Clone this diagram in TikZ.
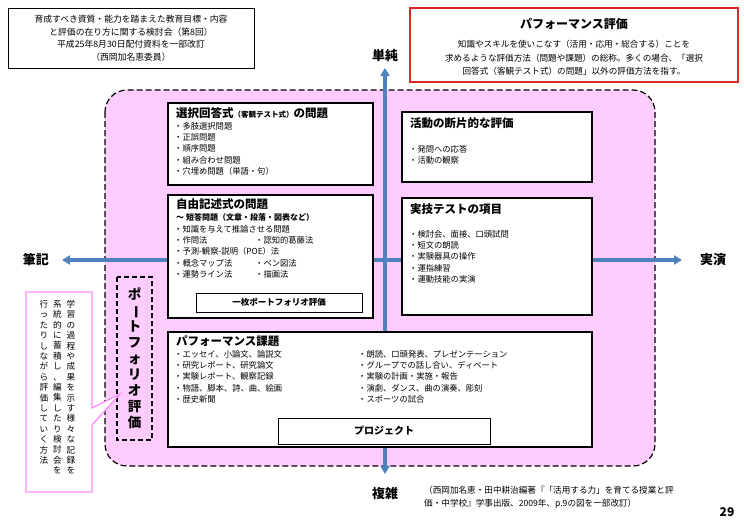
\documentclass[tikz,border=0pt]{standalone}
\usepackage{fontspec}
\setmainfont{Noto Sans CJK JP}
\usetikzlibrary{arrows.meta}
\definecolor{axis}{RGB}{79,129,189}
\definecolor{pinkbg}{RGB}{255,204,255}
\definecolor{pinkline}{RGB}{255,140,255}
\definecolor{redline}{RGB}{220,40,40}
\tikzset{
 box/.style={draw=black,line width=1.3pt,fill=white},
 ttl/.style={font=\fontsize{11.5}{13}\selectfont\bfseries,anchor=north west,inner sep=0pt},
 body/.style={font=\fontsize{8.3}{11.3}\selectfont,anchor=north west,align=left,inner sep=0pt},
 ax/.style={draw=axis,line width=3.5pt,{Triangle[width=9pt,length=8pt]}-{Triangle[width=9pt,length=8pt]}},
 axl/.style={font=\fontsize{13}{15}\selectfont\bfseries},
 vt/.style={align=center,inner sep=0pt,font=\fontsize{8.6}{10.4}\selectfont},
}
\newcommand{\vbar}{\rotatebox[origin=c]{-90}{ー}}
\begin{document}
\begin{tikzpicture}[x=1pt,y=-1pt]
\useasboundingbox (0,0) rectangle (744,522);
% top-left info box
\node[draw=black,line width=0.8pt,minimum width=246pt,minimum height=60pt,align=center,font=\fontsize{8.8}{12.5}\selectfont] (info) at (131,38)
 {育成すべき資質・能力を踏まえた教育目標・内容\\と評価の在り方に関する検討会（第8回）\\平成25年8月30日配付資料を一部改訂\\（西岡加名恵委員）};
% top-right red box
\draw[redline,line width=1.2pt,fill=white] (410,8) rectangle (738,82);
\node[font=\fontsize{12}{14}\selectfont\bfseries] (pt) at (574,24) {パフォーマンス評価};
\node[align=center,font=\fontsize{8.6}{13.5}\selectfont] (pd) at (574,58) {知識やスキルを使いこなす（活用・応用・総合する）ことを\\求めるような評価方法（問題や課題）の総称。多くの場合、「選択\\回答式（客観テスト式）の問題」以外の評価方法を指す。};
% pink area
\draw[line width=1.2pt,fill=pinkbg,rounded corners=22pt,dash pattern=on 6pt off 3pt] (105,90) rectangle (655,466);
% axes
\coordinate (top) at (385,68);
\coordinate (bot) at (385,474);
\coordinate (lft) at (62,260);
\coordinate (rgt) at (682,260);
\draw[ax] (bot) -- (top);
\draw[ax] (lft) -- (rgt);
\node[axl] (tan) at (385,56) {単純};
\node[axl] (fuk) at (385,494) {複雑};
\node[axl] (hik) at (36,260) {筆記};
\node[axl] (jit) at (713,260) {実演};
% box1
\draw[box] (168,103) rectangle (373,185);
\node[ttl] (b1t) at (176,107) {選択回答式{\fontsize{7.5}{8}\selectfont（客観テスト式）}の問題};
\node[body] (b1) at (174,122) {・多肢選択問題\\・正誤問題\\・順序問題\\・組み合わせ問題\\・穴埋め問題（単語・句）};
% box2
\draw[box] (168,195) rectangle (373,318);
\node[ttl] (b2t) at (176,198) {自由記述式の問題};
\node[body,font=\fontsize{8}{11}\selectfont\bfseries] (b2s) at (176,213) {～ 短答問題（文章・段落・図表など）};
\node[body] (b2) at (174,225) {・知識を与えて推論させる問題\\・作問法\\・予測-観察-説明（POE）法\\・概念マップ法\\・運勢ライン法};
\node[body] (b2r) at (255,236.3) {・認知的葛藤法\\[11.3pt]・ベン図法\\・描画法};
\draw[box,line width=1pt] (196,293) rectangle (362,312);
\node[font=\fontsize{8.5}{10}\selectfont\bfseries] (ichi) at (279,302.5) {一枚ポートフォリオ評価};
% box3
\draw[box] (402,112) rectangle (592,182);
\node[ttl] (b3t) at (410,117) {活動の断片的な評価};
\node[body] (b3) at (409,145) {・発問への応答\\・活動の観察};
% box4
\draw[box] (402,198) rectangle (592,315);
\node[ttl] (b4t) at (410,203) {実技テストの項目};
\node[body] (b4) at (409,230) {・検討会、面接、口頭試問\\・短文の朗読\\・実験器具の操作\\・運指練習\\・運動技能の実演};
% box5
\draw[box] (168,332) rectangle (592,447);
\node[ttl] (b5t) at (176,335) {パフォーマンス課題};
\node[body] (b5) at (174,350) {・エッセイ、小論文、論説文\\・研究レポート、研究論文\\・実験レポート、観察記録\\・物語、脚本、詩、曲、絵画\\・歴史新聞};
\node[body] (b5r) at (358,350) {・朗読、口頭発表、プレゼンテーション\\・グループでの話し合い、ディベート\\・実験の計画・実施・報告\\・演劇、ダンス、曲の演奏、彫刻\\・スポーツの試合};
\draw[box,line width=1pt] (278,418) rectangle (490,444);
\node[font=\fontsize{10}{11}\selectfont\bfseries] (proj) at (384,431) {プロジェクト};
% portfolio dashed box
\draw[line width=1.2pt,dash pattern=on 5pt off 3pt] (117,277) rectangle (152,440);
\node[vt,font=\fontsize{13.5}{16}\selectfont\bfseries] (port) at (134.5,358) {ポ\\\vbar\\ト\\フ\\ォ\\リ\\オ\\評\\価};
% callout
\draw[pinkline,line width=1.3pt,fill=white] (26,292) -- (92,292) -- (92,408) -- (120,394) -- (92,425) -- (92,492) -- (26,492) -- cycle;
\node[vt,anchor=north] (c1) at (71,300) {学\\習\\の\\過\\程\\や\\成\\果\\を\\示\\す\\様\\々\\な\\記\\録\\を};
\node[vt,anchor=north] (c2) at (57.5,300) {系\\統\\的\\に\\蓄\\積\\し\\、\\編\\集\\し\\た\\り\\検\\討\\会\\を};
\node[vt,anchor=north] (c3) at (44,300) {行\\っ\\た\\り\\し\\な\\が\\ら\\評\\価\\し\\て\\い\\く\\方\\法};
% citation
\node[body,font=\fontsize{8.6}{13}\selectfont] (cite) at (424,486) {（西岡加名恵・田中耕治編著『「活用する力」を育てる授業と評\\価・中学校』学事出版、2009年、p.9の図を一部改訂）};
\node[font=\fontsize{12}{13}\selectfont\bfseries] (pg) at (727,512) {29};
\end{tikzpicture}
\end{document}
